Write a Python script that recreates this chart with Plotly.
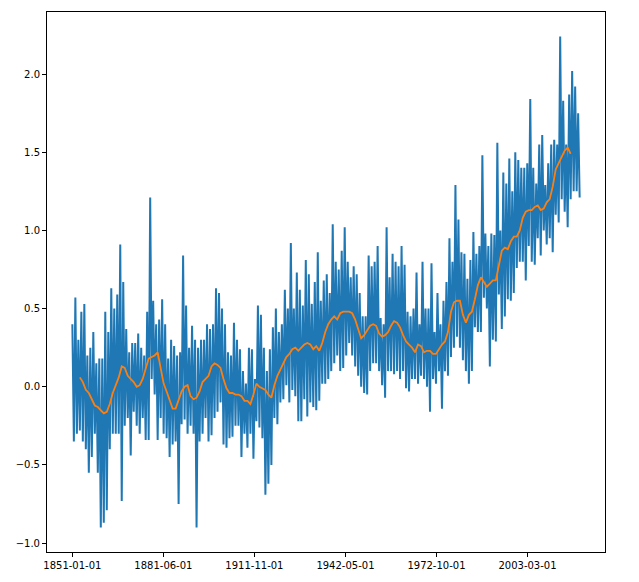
import plotly.graph_objects as go

blue_values = [
    0.40,-0.35, 0.57,-0.30, 0.30,-0.28, 0.48,-0.35, 0.53,-0.40, 0.20,-0.55, 0.25,-0.45, 0.35,-0.30, 0.15,-0.55, 0.18,-0.90,
    0.18,-0.87, 0.48,-0.79, 0.35,-0.40, 0.63,-0.30, 0.50,-0.30, 0.59,-0.30, 0.91,-0.73, 0.67,-0.25, 0.37,-0.20, 0.22,-0.44,
    0.28,-0.16, 0.28,-0.25, 0.34,-0.30, 0.25,-0.20, 0.20,-0.34, 0.48,-0.34, 1.21,0.05, 0.55,-0.05, 0.40,-0.34, 0.43,-0.20,
    0.56,-0.30, 0.40,-0.33, 0.18,-0.45, 0.30,-0.37, 0.26,-0.35, 0.20,-0.75, 0.22,-0.24, 0.84,-0.21, 0.52,-0.30, 0.25,-0.25,
    0.39,-0.30, 0.30,-0.90, 0.25,-0.35, 0.30,-0.30, 0.30,-0.20, 0.40,-0.35, 0.37,-0.31, 0.40,-0.20, 0.63,-0.16, 0.60,-0.10,
    0.50,-0.37, 0.40,-0.39, 0.22,-0.33, 0.20,-0.32, 0.41,-0.25, 0.30,-0.25, 0.24,-0.45, 0.10,-0.30, 0.02,-0.39, 0.25,-0.30,
    0.24,-0.46, 0.05,-0.22, 0.52,-0.26, 0.46,-0.33, 0.25,-0.69, 0.10,-0.62, 0.24,-0.50, 0.38,-0.20, 0.50,-0.24, 0.35,-0.10,
    0.40,-0.08, 0.62,0.01, 0.50,-0.10, 0.92,-0.02, 0.50,-0.06, 0.73,-0.22, 0.62,-0.22, 0.52,-0.08, 0.81,-0.19, 0.72,-0.10,
    0.53,-0.13, 0.67,-0.15, 0.86,-0.09, 0.55,0.02, 0.68,0.02, 0.72,0.05, 0.60,0.10, 1.04,0.15, 0.80,0.20, 0.75,0.10,
    0.87,0.12, 1.02,0.20, 0.80,0.28, 0.70,0.20, 0.77,0.13, 0.72,0.07, 0.60,0.00, 0.45,-0.04, 0.45,-0.05, 0.84,0.10,
    0.77,0.15, 0.80,0.15, 0.90,0.10, 0.44,0.01, 0.40,-0.07, 1.02,0.10, 0.70,0.10, 0.85,0.08, 0.80,0.10, 0.77,0.05,
    0.90,0.10, 0.78,-0.01, 0.48,-0.03, 0.45,0.05, 0.50,0.05, 0.73,0.02, 0.40,0.07, 0.80,0.05, 0.50,0.00, 0.50,-0.16,
    0.79,0.05, 0.35,0.02, 0.60,0.10, 0.40,-0.14, 0.55,0.10, 0.67,0.07, 0.95,0.19, 0.80,0.25, 1.29,0.32, 1.07,0.25,
    0.86,0.17, 0.85,0.10, 0.69,0.02, 0.81,0.10, 0.99,0.38, 0.85,0.35, 0.90,0.35, 1.48,0.57, 0.98,0.50, 0.90,0.13,
    0.98,0.30, 0.97,0.29, 1.56,0.59, 1.00,0.37, 1.37,0.45, 1.30,0.56, 1.46,0.55, 1.25,0.60, 1.50,0.76, 1.45,0.80,
    1.40,0.80, 1.40,0.68, 1.43,0.90, 1.84,0.80, 1.40,0.78, 1.30,0.95, 1.55,0.84, 1.61,1.00, 1.29,0.91, 1.43,0.95,
    1.55,0.86, 1.58,1.10, 1.55,1.05, 2.24,1.20, 1.83,1.12, 1.55,1.02, 1.87,1.20, 2.02,1.25, 1.92,1.25, 1.75,1.21,
]

# Rolling mean, read once per year at mid-year (1853 .. 2017)
rolling_values = [
    0.06, 0.03, -0.02, -0.04, -0.08, -0.12, -0.13, -0.15, -0.17, -0.16,
    -0.11, -0.04, 0.01, 0.06, 0.13, 0.12, 0.07, 0.05, 0.03, 0.00,
    0.01, 0.05, 0.12, 0.18, 0.19, 0.20, 0.22, 0.12, 0.02, -0.03,
    -0.08, -0.14, -0.14, -0.09, -0.03, 0.00, 0.01, -0.06, -0.08, -0.07,
    -0.03, 0.03, 0.05, 0.07, 0.13, 0.15, 0.14, 0.12, 0.05, -0.01,
    -0.04, -0.04, -0.05, -0.05, -0.06, -0.09, -0.09, -0.11, -0.05, 0.02,
    0.00, -0.01, -0.02, -0.05, -0.07, 0.01, 0.07, 0.11, 0.15, 0.19,
    0.21, 0.24, 0.25, 0.23, 0.25, 0.27, 0.28, 0.27, 0.24, 0.26,
    0.23, 0.28, 0.35, 0.40, 0.43, 0.45, 0.43, 0.47, 0.48, 0.48,
    0.48, 0.47, 0.43, 0.37, 0.31, 0.33, 0.36, 0.39, 0.40, 0.39,
    0.34, 0.32, 0.33, 0.35, 0.39, 0.42, 0.41, 0.38, 0.33, 0.29,
    0.27, 0.25, 0.22, 0.27, 0.26, 0.22, 0.23, 0.23, 0.21, 0.21,
    0.24, 0.27, 0.29, 0.35, 0.48, 0.54, 0.55, 0.55, 0.46, 0.41,
    0.46, 0.48, 0.56, 0.65, 0.70, 0.67, 0.64, 0.66, 0.68, 0.68,
    0.77, 0.87, 0.89, 0.88, 0.93, 0.96, 0.96, 1.00, 1.08, 1.12,
    1.13, 1.13, 1.15, 1.16, 1.13, 1.14, 1.18, 1.20, 1.28, 1.39,
    1.43, 1.47, 1.51, 1.53, 1.49,
]

x_tick_labels = ["1851-01-01", "1881-06-01", "1911-11-01", "1942-05-01", "1972-10-01", "2003-03-01"]
y_tick_values = [-1.0, -0.5, 0.0, 0.5, 1.0, 1.5, 2.0]
y_tick_labels = ["\u22121.0", "\u22120.5", "0.0", "0.5", "1.0", "1.5", "2.0"]

# x positions are month indices from 1851-01
blue_x = [6 * i for i in range(len(blue_values))]
rolling_x = [30 + 12 * i for i in range(len(rolling_values))]
x_tick_positions = [365 * i for i in range(len(x_tick_labels))]

n_months = blue_x[-1]
pad = 0.05 * n_months

fig = go.Figure()
fig.add_trace(go.Scatter(x=blue_x, y=blue_values, mode="lines",
                         line=dict(color="#1f77b4", width=2)))
fig.add_trace(go.Scatter(x=rolling_x, y=rolling_values, mode="lines",
                         line=dict(color="#ff7f0e", width=1.8)))

axis_common = dict(showgrid=False, zeroline=False, showline=True, mirror=True,
                   linecolor="black", linewidth=1, ticks="outside", ticklen=4,
                   tickwidth=1, tickcolor="black",
                   tickfont=dict(family="DejaVu Sans", size=10, color="black"))

fig.update_layout(
    width=639, height=582,
    margin=dict(l=47, r=34, t=11, b=27),
    plot_bgcolor="white", paper_bgcolor="white",
    showlegend=False,
    font=dict(family="DejaVu Sans", size=10, color="black"),
    xaxis=dict(range=[-pad, n_months + pad], tickmode="array",
               tickvals=x_tick_positions, ticktext=x_tick_labels, **axis_common),
    yaxis=dict(range=[-1.057, 2.397], tickmode="array",
               tickvals=y_tick_values, ticktext=y_tick_labels, **axis_common),
)

fig.write_html("out.html")
